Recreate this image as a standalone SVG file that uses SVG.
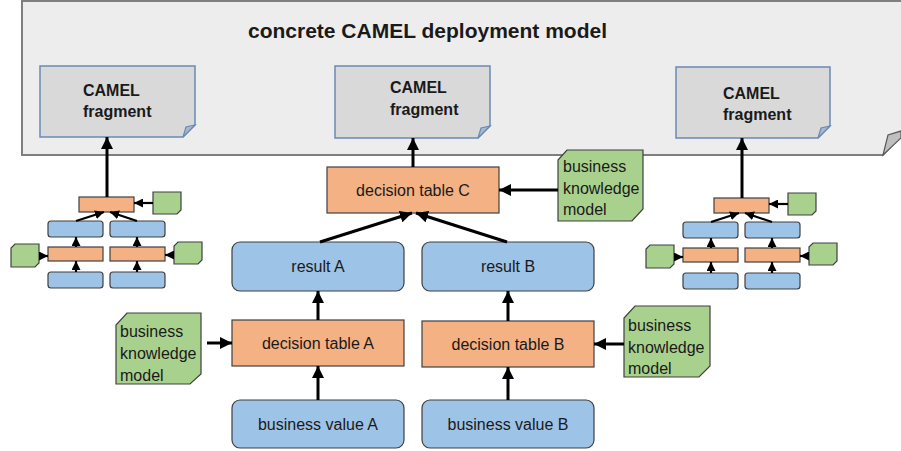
<svg xmlns="http://www.w3.org/2000/svg" width="901" height="451" viewBox="0 0 901 451">
<defs>
<style>
text{font-family:"Liberation Sans",Arial,sans-serif;fill:#1a1a1a}
.t{font-size:16px}
.c{text-anchor:middle}
.b{font-weight:bold}
.frag{fill:#d9d9d9;stroke:#6a8ab5;stroke-width:1.5}
.fold{fill:#a9b8cc;stroke:#6a8ab5;stroke-width:1.2}
.dt{fill:#f4b183;stroke:#404040;stroke-width:1.2}
.bl{fill:#9dc3e6;stroke:#404040;stroke-width:1.2}
.gr{fill:#a9d18e;stroke:#404040;stroke-width:1.2}
.ar{stroke:#000;stroke-width:3;fill:none;marker-end:url(#ah)}
.as{stroke:#000;stroke-width:2.2;fill:none;marker-end:url(#as)}
</style>
<marker id="ah" markerUnits="userSpaceOnUse" markerWidth="12" markerHeight="12" refX="10" refY="5" orient="auto" viewBox="0 0 10 10">
<path d="M0,0 L10,5 L0,10 Z" fill="#000"/>
</marker>
<marker id="as" markerUnits="userSpaceOnUse" markerWidth="9" markerHeight="9" refX="8" refY="4" orient="auto" viewBox="0 0 8 8">
<path d="M0,0 L8,4 L0,8 Z" fill="#000"/>
</marker>
<g id="cluster">
<rect class="dt" x="79" y="197" width="55" height="15"/>
<polygon class="gr" points="153,192 181,192 181,210 177,214 153,214"/>
<rect class="bl" x="48" y="221" width="55" height="16" rx="3"/>
<rect class="bl" x="110" y="221" width="55" height="16" rx="3"/>
<rect class="dt" x="48" y="247" width="55" height="14"/>
<rect class="dt" x="110" y="247" width="55" height="14"/>
<rect class="bl" x="48" y="272" width="55" height="16" rx="3"/>
<rect class="bl" x="110" y="272" width="55" height="16" rx="3"/>
<polygon class="gr" points="15,244 39,244 39,263 35,267 11,267 11,248"/>
<polygon class="gr" points="178,242 202,242 202,260 198,264 174,264 174,246"/>
<line class="ar" x1="107" y1="197" x2="107" y2="137"/>
<line class="as" x1="153" y1="203" x2="134" y2="203"/>
<line class="as" x1="76" y1="221" x2="104" y2="212"/>
<line class="as" x1="137" y1="221" x2="110" y2="212"/>
<line class="as" x1="76" y1="272" x2="76" y2="261"/>
<line class="as" x1="76" y1="247" x2="76" y2="237"/>
<line class="as" x1="137" y1="272" x2="137" y2="261"/>
<line class="as" x1="137" y1="247" x2="137" y2="237"/>
<line class="as" x1="39" y1="256" x2="48" y2="256"/>
<line class="as" x1="174" y1="255" x2="165" y2="255"/>
</g>
</defs>
<rect width="901" height="451" fill="#ffffff"/>
<g id="container">
<path d="M22,1 H906 V130 L883,155 H22 Z" fill="#ededed" stroke="#7f7f7f" stroke-width="2"/>
<polygon points="883,155 888,135 901,131 901,138" fill="#bfbfbf" stroke="#595959" stroke-width="1.2"/>
<text class="b" x="248" y="38" font-size="21">concrete CAMEL deployment model</text>
</g>
<g id="fragment-left">
<path class="frag" d="M40,66 H195 V125 L183,137 H40 Z"/>
<polygon class="fold" points="183,137 186,127 195,125"/>
<text class="t b" x="83" y="96">CAMEL</text>
<text class="t b" x="83" y="117">fragment</text>
</g>
<g id="fragment-middle">
<path class="frag" d="M335,66 H490 V126 L478,138 H335 Z"/>
<polygon class="fold" points="478,138 481,128 490,126"/>
<text class="t b" x="390" y="93">CAMEL</text>
<text class="t b" x="390" y="115">fragment</text>
</g>
<g id="fragment-right">
<path class="frag" d="M676,67 H830 V126 L818,138 H676 Z"/>
<polygon class="fold" points="818,138 821,128 830,126"/>
<text class="t b" x="723" y="99">CAMEL</text>
<text class="t b" x="723" y="120">fragment</text>
</g>
<g id="cluster-left">
<use href="#cluster"/>
</g>
<g id="cluster-right">
<use href="#cluster" transform="translate(635,1)"/>
</g>
<g id="decision-table-C">
<rect class="dt" x="327" y="167" width="172" height="46"/>
<text class="t c" x="413" y="196">decision table C</text>
</g>
<g id="bkm-C">
<polygon class="gr" points="567,150 643,150 643,209 632,221 558,221 558,160"/>
<text class="t" x="563" y="172">business</text>
<text class="t" x="563" y="194">knowledge</text>
<text class="t" x="563" y="215">model</text>
</g>
<g id="result-A">
<rect class="bl" x="232" y="242" width="172" height="49" rx="8"/>
<text class="t c" x="318" y="272">result A</text>
</g>
<g id="result-B">
<rect class="bl" x="422" y="242" width="172" height="49" rx="8"/>
<text class="t c" x="508" y="272">result B</text>
</g>
<g id="decision-table-A">
<rect class="dt" x="232" y="320" width="172" height="46"/>
<text class="t c" x="318" y="349">decision table A</text>
</g>
<g id="decision-table-B">
<rect class="dt" x="422" y="321" width="172" height="46"/>
<text class="t c" x="508" y="350">decision table B</text>
</g>
<g id="bkm-A">
<polygon class="gr" points="127,313 201,313 201,374 190,384 116,384 116,325"/>
<text class="t" x="120" y="337">business</text>
<text class="t" x="120" y="359">knowledge</text>
<text class="t" x="120" y="381">model</text>
</g>
<g id="bkm-B">
<polygon class="gr" points="635,306 710,306 710,366 699,377 624,377 624,318"/>
<text class="t" x="628" y="331">business</text>
<text class="t" x="628" y="353">knowledge</text>
<text class="t" x="628" y="374">model</text>
</g>
<g id="business-value-A">
<rect class="bl" x="232" y="400" width="172" height="48" rx="8"/>
<text class="t c" x="318" y="430">business value A</text>
</g>
<g id="business-value-B">
<rect class="bl" x="422" y="400" width="172" height="48" rx="8"/>
<text class="t c" x="508" y="430">business value B</text>
</g>
<g id="connectors">
<line class="ar" x1="413" y1="167" x2="413" y2="138"/>
<line class="ar" x1="558" y1="190" x2="499" y2="190"/>
<line class="ar" x1="320" y1="242" x2="412" y2="213"/>
<line class="ar" x1="507" y1="242" x2="416" y2="213"/>
<line class="ar" x1="318" y1="320" x2="318" y2="291"/>
<line class="ar" x1="318" y1="400" x2="318" y2="366"/>
<line class="ar" x1="508" y1="321" x2="508" y2="291"/>
<line class="ar" x1="508" y1="400" x2="508" y2="367"/>
<line class="ar" x1="207" y1="343" x2="232" y2="343"/>
<line class="ar" x1="624" y1="344" x2="594" y2="344"/>
</g>
</svg>
